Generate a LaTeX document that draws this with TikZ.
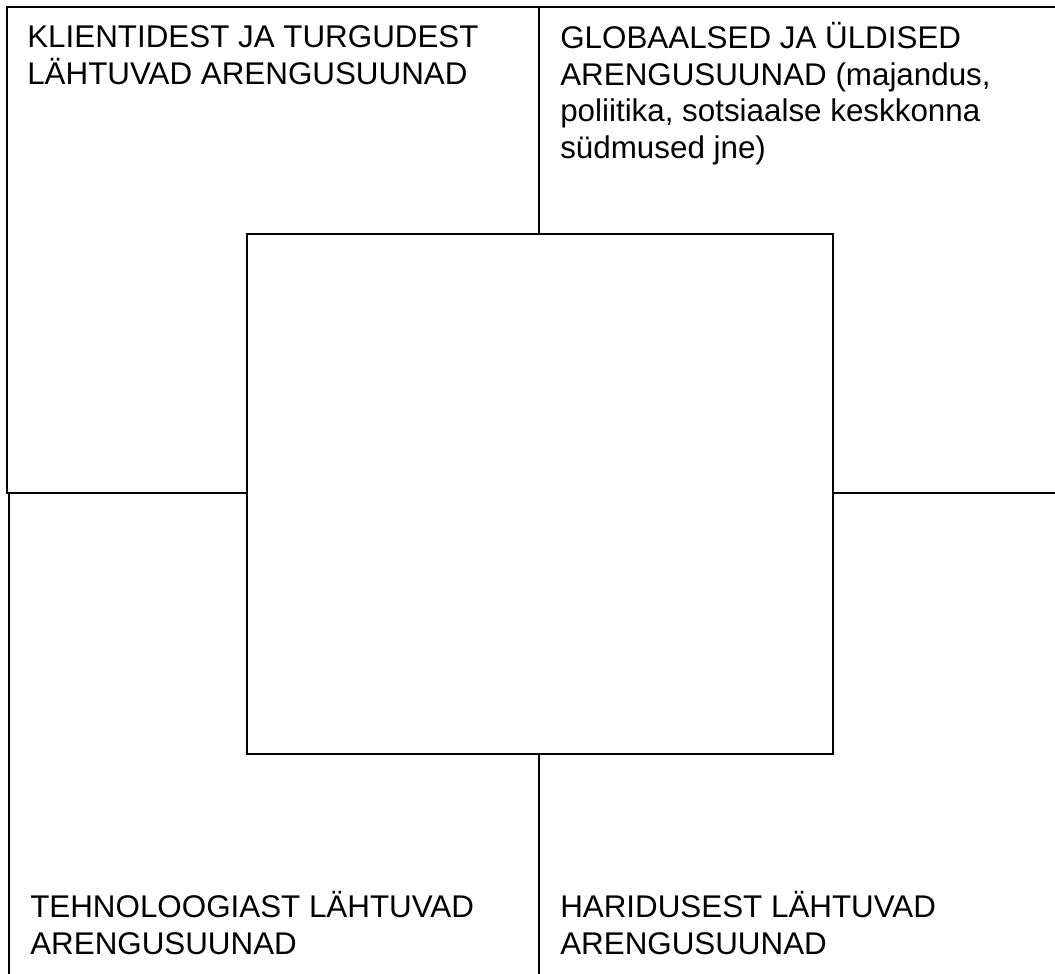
\documentclass[tikz,border=0pt]{standalone}
\usepackage{fontspec}
\setmainfont{Liberation Sans}
\begin{document}
\begin{tikzpicture}[x=0.025cm,y=-0.025cm,
    kast/.style={draw, line width=1.6pt, inner sep=0pt, anchor=north west},
    silt/.style={inner sep=0pt, align=left, anchor=base west,
      font=\fontsize{22.3pt}{26pt}\selectfont}]
      \useasboundingbox (0,0) rectangle (1055,974);
      \clip (0,0) rectangle (1055,974);
      % four fields
      \node (klient)[kast, minimum width=13.3cm, minimum height=12.15cm] at (6,6){};
      \node (global)[kast, minimum width=13.25cm, minimum height=12.15cm] at (538,6){};
      \node (tehno)[kast, minimum width=13.25cm, minimum height=12.5cm] at (8,492){};
      \node (haridus)[kast, minimum width=13.25cm, minimum height=12.5cm] at (538,492){};
      % middle box
      \node (kesk)[kast, fill=white, minimum width=14.65cm, minimum height=13cm] at (246,233){};
      % texts (base = last line)
      \node (t1)[silt] at (27,84.5){KLIENTIDEST JA TURGUDEST\\LÄHTUVAD ARENGUSUUNAD};
      \node (t2)[silt] at (560,158.5){GLOBAALSED JA ÜLDISED\\ARENGUSUUNAD (majandus,\\poliitika, sotsiaalse keskkonna\\südmused jne)};
      \node (t3)[silt] at (30,954.5){TEHNOLOOGIAST LÄHTUVAD\\ARENGUSUUNAD};
      \node (t4)[silt] at (560,954.5){HARIDUSEST LÄHTUVAD\\ARENGUSUUNAD};
    \end{tikzpicture}
\end{document}
